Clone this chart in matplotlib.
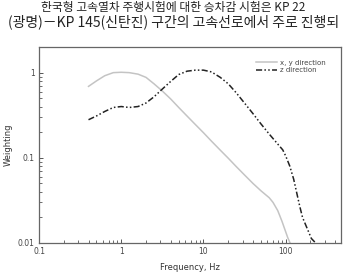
import numpy as np
import matplotlib
matplotlib.use("Agg")
import matplotlib.pyplot as plt
from matplotlib.ticker import LogLocator, NullFormatter, FixedLocator, FixedFormatter

# frequency weighting curves
freq_xy = [0.4, 0.5, 0.63, 0.8, 1.0, 1.25, 1.6, 2.0, 2.5, 3.15, 4.0, 5.0, 6.3, 8.0,
           10, 12.5, 16, 20, 25, 31.5, 40, 50, 63, 70, 80, 90, 100, 106, 112, 115]
w_xy = [0.69, 0.80, 0.92, 1.0, 1.01, 1.0, 0.96, 0.88, 0.74, 0.61, 0.49, 0.39, 0.31, 0.245,
        0.197, 0.157, 0.123, 0.099, 0.079, 0.063, 0.050, 0.041, 0.034, 0.030, 0.024, 0.018,
        0.0135, 0.0115, 0.0102, 0.0096]

freq_z = [0.4, 0.5, 0.63, 0.8, 1.0, 1.25, 1.6, 2.0, 2.5, 3.15, 4.0, 5.0, 6.3, 8.0,
          10, 12.5, 16, 20, 25, 31.5, 40, 50, 63, 80, 92, 100, 112, 125, 148, 160, 205, 236]
w_z = [0.28, 0.31, 0.35, 0.39, 0.40, 0.39, 0.40, 0.44, 0.52, 0.64, 0.79, 0.95, 1.04, 1.07,
       1.07, 1.02, 0.88, 0.74, 0.58, 0.44, 0.33, 0.25, 0.19, 0.145, 0.124, 0.105, 0.080,
       0.056, 0.027, 0.020, 0.0113, 0.0098]

x_ticks = [0.1, 1, 10, 100]
x_ticklabels = ["0.1", "1", "10", "100"]
y_ticks = [0.01, 0.1, 1]
y_ticklabels = ["0.01", "0.1", "1"]

line1 = "한국형 고속열차 주행시험에 대한 승차감 시험은 KP 22"
line2 = "(광명)－KP 145(신탄진) 구간의 고속선로에서 주로 진행되"

fig = plt.figure(figsize=(3.47, 2.73), dpi=100)
fig.patch.set_facecolor("white")

# paper text above the chart
fig.text(0.5, 1.0 - 7 / 273, line1, ha="center", va="center", fontsize=8.5,
         family=["Noto Sans CJK KR", "DejaVu Sans"], color="#222222")
fig.text(0.5, 1.0 - 22 / 273, line2, ha="center", va="center", fontsize=10,
         family=["Noto Sans CJK KR", "DejaVu Sans"], color="#222222")

ax = fig.add_axes([39 / 347, 1 - 243 / 273, (341 - 39) / 347, (243 - 47) / 273])
ax.plot(freq_xy, w_xy, color="#c4c4c4", lw=1.1, label="x, y direction")
ax.plot(freq_z, w_z, color="#222222", lw=1.1, dashes=(4, 1.5, 1, 1.5, 1, 1.5),
        label="z direction")

ax.set_xscale("log")
ax.set_yscale("log")
ax.set_xlim(0.1, 470)
ax.set_ylim(0.01, 2)

ax.xaxis.set_major_locator(FixedLocator(x_ticks))
ax.xaxis.set_major_formatter(FixedFormatter(x_ticklabels))
ax.xaxis.set_minor_locator(LogLocator(base=10, subs=np.arange(2, 10)))
ax.xaxis.set_minor_formatter(NullFormatter())
ax.yaxis.set_major_locator(FixedLocator(y_ticks))
ax.yaxis.set_major_formatter(FixedFormatter(y_ticklabels))
ax.yaxis.set_minor_locator(LogLocator(base=10, subs=np.arange(2, 10)))
ax.yaxis.set_minor_formatter(NullFormatter())

ax.tick_params(which="both", direction="in", top=False, right=False,
               labelsize=5.5, labelcolor="#444444", color="#555555", pad=3)
ax.tick_params(which="major", length=3, width=0.7)
ax.tick_params(which="minor", length=2, width=0.6)
for s in ax.spines.values():
    s.set_color("#666666")
    s.set_linewidth(0.9)

ax.set_xlabel("Frequency, Hz", fontsize=6, color="#333333", labelpad=5)
ax.set_ylabel("Weighting", fontsize=6, color="#333333", labelpad=4)

leg = ax.legend(loc="upper left", bbox_to_anchor=(0.72, 0.935), frameon=False,
                fontsize=5, handlelength=3, handletextpad=0.4, labelspacing=0.2,
                borderaxespad=0, borderpad=0)
for t in leg.get_texts():
    t.set_color("#444444")

fig.savefig("out.png", dpi=100)
